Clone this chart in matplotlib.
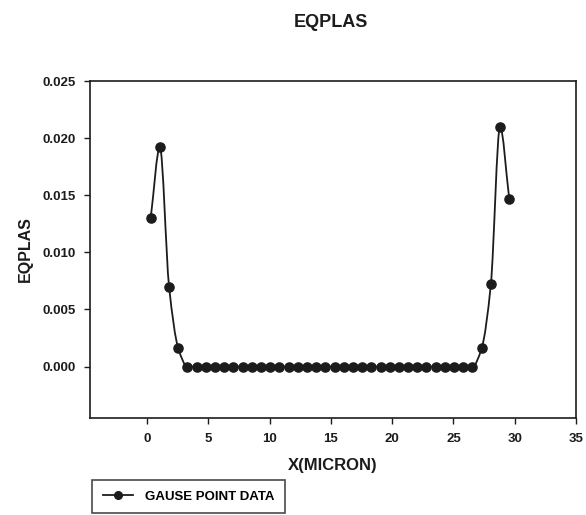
import numpy as np
import matplotlib
matplotlib.use("Agg")
import matplotlib.pyplot as plt
from matplotlib.path import Path
from matplotlib.patches import PathPatch
from matplotlib.lines import Line2D

plt.rcParams['font.family'] = ['Liberation Sans', 'DejaVu Sans']
plt.rcParams['font.weight'] = 'bold'

# Gauss point positions (micron) and equivalent plastic strain
x_micron = [0.30, 1.05, 1.80, 2.55, 3.30, 4.05, 4.80, 5.55, 6.30, 7.05,
            7.80, 8.55, 9.30, 10.05, 10.80, 11.55, 12.30, 13.05, 13.80, 14.55,
            15.30, 16.05, 16.80, 17.55, 18.30, 19.05, 19.80, 20.55, 21.30, 22.05,
            22.80, 23.55, 24.30, 25.05, 25.80, 26.55, 27.30, 28.05, 28.80, 29.55]
eqplas = [0.0130, 0.0192, 0.0070, 0.0016, 0.0, 0.0, 0.0, 0.0, 0.0, 0.0,
          0.0, 0.0, 0.0, 0.0, 0.0, 0.0, 0.0, 0.0, 0.0, 0.0,
          0.0, 0.0, 0.0, 0.0, 0.0, 0.0, 0.0, 0.0, 0.0, 0.0,
          0.0, 0.0, 0.0, 0.0, 0.0, 0.0, 0.0016, 0.0072, 0.0210, 0.0147]
x_ticks = [0, 5, 10, 15, 20, 25, 30, 35]
y_ticks = [0.000, 0.005, 0.010, 0.015, 0.020, 0.025]

INK = '#1c1c1c'


def smooth_path(xs, ys):
    """Monotone cubic (Fritsch-Carlson) curve through the points as Bezier segments."""
    xs = np.asarray(xs, float)
    ys = np.asarray(ys, float)
    h = np.diff(xs)
    d = np.diff(ys) / h
    n = len(xs)
    m = np.zeros(n)
    m[0], m[-1] = d[0], d[-1]
    for i in range(1, n - 1):
        if d[i - 1] * d[i] <= 0:
            m[i] = 0.0
        else:
            w1 = 2 * h[i] + h[i - 1]
            w2 = h[i] + 2 * h[i - 1]
            m[i] = (w1 + w2) / (w1 / d[i - 1] + w2 / d[i])
    verts = [(xs[0], ys[0])]
    codes = [Path.MOVETO]
    for i in range(n - 1):
        verts += [(xs[i] + h[i] / 3, ys[i] + m[i] * h[i] / 3),
                  (xs[i + 1] - h[i] / 3, ys[i + 1] - m[i + 1] * h[i] / 3),
                  (xs[i + 1], ys[i + 1])]
        codes += [Path.CURVE4] * 3
    return Path(verts, codes)


fig = plt.figure(figsize=(5.86, 5.15), dpi=100)
ax = fig.add_axes([0.1536, 0.1883, 0.8294, 0.6544])

ax.add_patch(PathPatch(smooth_path(x_micron, eqplas), facecolor='none',
                       edgecolor=INK, lw=1.3))
ax.plot(x_micron, eqplas, linestyle='none', marker='o', markersize=6.6,
        color=INK)

ax.set_xlim(-4.65, 35)
ax.set_ylim(-0.0045, 0.025)
ax.set_xticks(x_ticks)
ax.set_yticks(y_ticks)
ax.set_yticklabels([f"{v:.3f}" for v in y_ticks])
ax.tick_params(direction='out', length=4, width=1.0, labelsize=9.5,
               colors=INK)
ax.tick_params(axis='x', pad=7)
ax.tick_params(axis='y', pad=6)
for lab in ax.get_xticklabels() + ax.get_yticklabels():
    lab.set_fontweight('bold')
for sp in ax.spines.values():
    sp.set_linewidth(1.2)
    sp.set_color(INK)

fig.text(0.565, 0.957, "EQPLAS", ha='center', va='center', fontsize=13,
         fontweight='bold', color=INK)
ax.set_xlabel("X(MICRON)", fontsize=12, fontweight='bold', color=INK,
              labelpad=9)
ax.set_ylabel("EQPLAS", fontsize=11.5, fontweight='bold', color=INK,
              labelpad=7)

handle = Line2D([], [], color=INK, lw=1.3, marker='o', markersize=5.5)
leg = fig.legend([handle], ["GAUSE POINT DATA"], loc='lower left',
                 bbox_to_anchor=(0.157, 0.003), frameon=True, fancybox=False,
                 edgecolor=INK, fontsize=9.5, handlelength=2.3,
                 borderpad=0.8, borderaxespad=0, handletextpad=0.9)
leg.get_frame().set_linewidth(1.2)
for t in leg.get_texts():
    t.set_fontweight('bold')

fig.savefig("out.png", dpi=100)
